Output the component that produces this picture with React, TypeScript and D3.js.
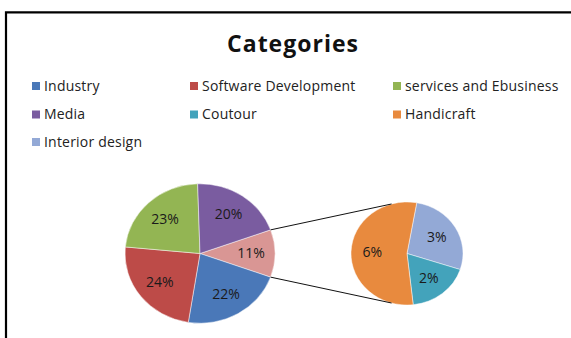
import React from "react";
import * as d3 from "d3";

// Chart data
const mainCategories = ["Industry", "Software Development", "services and Ebusiness", "Media"];
const mainValues = [22, 24, 23, 20];
const subCategories = ["Interior design", "Coutour", "Handicraft"];
const subValues = [3, 2, 6];
const legendOrder = [
  "Industry",
  "Software Development",
  "services and Ebusiness",
  "Media",
  "Coutour",
  "Handicraft",
  "Interior design",
];

const colors: Record<string, string> = {
  Industry: "#4a78b8",
  "Software Development": "#bd4b48",
  "services and Ebusiness": "#93b553",
  Media: "#7a5ca0",
  Coutour: "#43a3bb",
  Handicraft: "#e88a3e",
  "Interior design": "#93a9d6",
  Other: "#d99694",
};

const W = 571;
const H = 338;
const FONT = "'Open Sans', Lato, sans-serif";
const deg = Math.PI / 180;

export default function App() {
  const otherValue = d3.sum(subValues);
  const total = d3.sum(mainValues) + otherValue;

  // Main pie: "Other" slice centred on the right side
  const main = { cx: 200, cy: 253.5, r: 75, sy: 0.93 };
  const otherSpan = (otherValue / total) * 2 * Math.PI;
  const mainStart = Math.PI / 2 - otherSpan / 2;
  const mainData = [{ name: "Other", value: otherValue }].concat(
    mainCategories.map((c, i) => ({ name: c, value: mainValues[i] }))
  );
  const mainArcs = d3
    .pie<{ name: string; value: number }>()
    .sort(null)
    .value((d) => d.value)
    .startAngle(mainStart)
    .endAngle(mainStart + 2 * Math.PI)(mainData);

  // Secondary pie breaking down the "Other" slice
  const sub = { cx: 407, cy: 253.5, r: 56, sy: 0.92 };
  const subStart = 10 * deg;
  const subData = subCategories.map((c, i) => ({ name: c, value: subValues[i] }));
  const subArcs = d3
    .pie<{ name: string; value: number }>()
    .sort(null)
    .value((d) => d.value)
    .startAngle(subStart)
    .endAngle(subStart + 2 * Math.PI)(subData);

  const mainArc = d3.arc<any>().innerRadius(0).outerRadius(main.r);
  const subArc = d3.arc<any>().innerRadius(0).outerRadius(sub.r);

  const polar = (p: { cx: number; cy: number; sy: number }, a: number, rr: number) => [
    p.cx + rr * Math.sin(a),
    p.cy - rr * Math.cos(a) * p.sy,
  ];

  const pct = (v: number) => `${Math.round((v / total) * 100)}%`;

  // Connector lines from the "Other" slice edges to the secondary pie
  const otherArc = mainArcs[0];
  const l1a = polar(main, otherArc.startAngle, main.r);
  const l1b = polar(sub, -16 * deg, sub.r);
  const l2a = polar(main, otherArc.endAngle, main.r);
  const l2b = polar(sub, 196 * deg, sub.r);

  // Legend layout
  const colX = [32, 190, 393];
  const rowY = [86, 114.5, 142];

  return (
    <svg
      width={W}
      height={H}
      style={{ position: "absolute", left: 0, top: 0, background: "#fff" }}
      fontFamily={FONT}
    >
      <rect x={0} y={0} width={W} height={H} fill="#fff" />
      <path d={`M6,${H + 5} V12.3 H${W + 5}`} fill="none" stroke="#000" strokeWidth={2.2} />

      <text x={293} y={52} textAnchor="middle" fontSize={23} fontWeight="bold" letterSpacing={1} fill="#111">
        Categories
      </text>

      {legendOrder.map((name, i) => {
        const x = colX[i % 3];
        const y = rowY[Math.floor(i / 3)];
        return (
          <g key={name}>
            <rect x={x} y={y - 4} width={8} height={8} fill={colors[name]} />
            <text x={x + 12} y={y} dy="0.35em" fontSize={14} letterSpacing={0.2} fill="#222">
              {name}
            </text>
          </g>
        );
      })}

      <g transform={`translate(${main.cx},${main.cy}) scale(1,${main.sy})`}>
        {mainArcs.map((a) => (
          <path key={a.data.name} d={mainArc(a) as string} fill={colors[a.data.name]} stroke="#fff" strokeWidth={0.5} />
        ))}
      </g>
      <g transform={`translate(${sub.cx},${sub.cy}) scale(1,${sub.sy})`}>
        {subArcs.map((a) => (
          <path key={a.data.name} d={subArc(a) as string} fill={colors[a.data.name]} stroke="#fff" strokeWidth={0.5} />
        ))}
      </g>

      <line x1={l1a[0]} y1={l1a[1]} x2={l1b[0]} y2={l1b[1]} stroke="#111" strokeWidth={1} />
      <line x1={l2a[0]} y1={l2a[1]} x2={l2b[0]} y2={l2b[1]} stroke="#111" strokeWidth={1} />

      {mainArcs.map((a) => {
        const mid = (a.startAngle + a.endAngle) / 2;
        const [x, y] = polar(main, mid, main.r * 0.68);
        return (
          <text key={a.data.name} x={x} y={y} dy="0.35em" textAnchor="middle" fontSize={14} fill="#1a1a1a">
            {pct(a.data.value)}
          </text>
        );
      })}
      {subArcs.map((a) => {
        const mid = (a.startAngle + a.endAngle) / 2;
        const [x, y] = polar(sub, mid, sub.r * 0.62);
        return (
          <text key={a.data.name} x={x} y={y} dy="0.35em" textAnchor="middle" fontSize={14} fill="#1a1a1a">
            {pct(a.data.value)}
          </text>
        );
      })}
    </svg>
  );
}
